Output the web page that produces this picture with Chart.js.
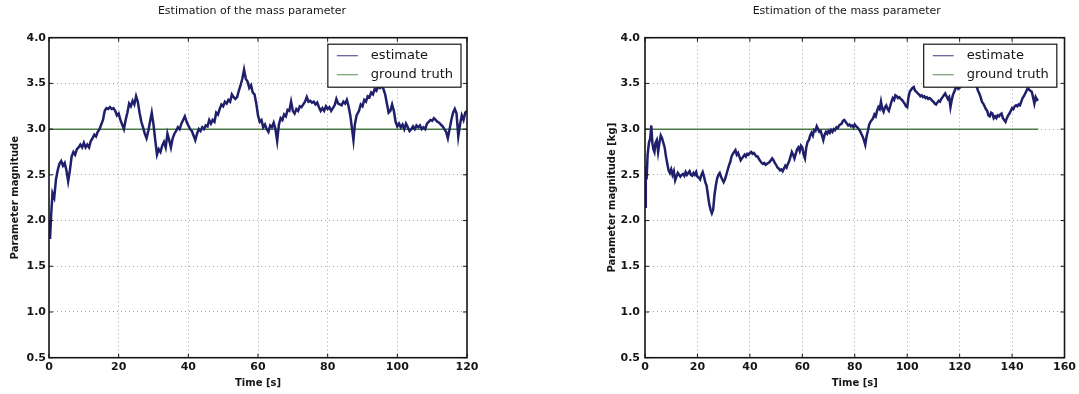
<!DOCTYPE html>
<html>
<head>
<meta charset="utf-8">
<script src="https://cdn.jsdelivr.net/npm/chart.js@4/dist/chart.umd.min.js"></script>
<style>
  html, body { margin: 0; padding: 0; background: #fff; }
  #wrap { position: relative; width: 1079px; height: 394px; }
  #left { position: absolute; left: 0; top: 0; }
  #right { position: absolute; left: 590px; top: 0; }
</style>
</head>
<body>
<div id="wrap">
  <canvas id="left" width="590" height="394"></canvas>
  <canvas id="right" width="489" height="394"></canvas>
</div>
<script>
// ---- data ----
const titleText = 'Estimation of the mass parameter';
const seriesNames = ['estimate', 'ground truth'];
const yTicks = [0.5, 1.0, 1.5, 2.0, 2.5, 3.0, 3.5, 4.0];
const leftXTicks = [0, 20, 40, 60, 80, 100, 120];
const rightXTicks = [0, 20, 40, 60, 80, 100, 120, 140, 160];
const trueMass = 3.0;

// [time (s), estimated mass] - first run, 120 s
const leftEstimate = [
  [0,2.0],[0.3,1.8],[0.6,2.05],[1,2.3],[1.5,2.25],[2,2.45],[2.5,2.55],[3,2.62],[3.5,2.65],[4,2.6],
  [4.5,2.63],[5,2.55],[5.5,2.43],[6,2.55],[6.5,2.7],[7,2.75],[7.5,2.72],[8,2.78],[8.5,2.8],[9,2.83],
  [9.5,2.8],[10,2.85],[10.5,2.8],[11,2.83],[11.5,2.8],[12,2.87],[12.5,2.9],[13,2.94],[13.5,2.92],[14,2.97],
  [14.5,3.0],[15,3.05],[15.5,3.1],[16,3.2],[16.5,3.23],[17,3.22],[17.5,3.24],[18,3.22],[18.5,3.23],[19,3.2],
  [19.5,3.15],[20,3.17],[20.5,3.1],[21,3.05],[21.5,3.0],[22,3.1],[22.5,3.18],[23,3.28],[23.5,3.25],[24,3.31],
  [24.5,3.27],[25,3.36],[25.5,3.3],[26,3.18],[26.5,3.08],[27,3.02],[27.5,2.95],[28,2.9],[28.5,2.98],[29,3.08],
  [29.5,3.18],[30,3.05],[30.5,2.88],[31,2.72],[31.5,2.78],[32,2.75],[32.5,2.82],[33,2.86],[33.5,2.8],[34,2.95],
  [34.5,2.88],[35,2.8],[35.5,2.9],[36,2.95],[36.5,2.98],[37,3.02],[37.5,3.0],[38,3.06],[38.5,3.1],[39,3.14],
  [39.5,3.08],[40,3.04],[40.5,3.0],[41,2.98],[41.5,2.93],[42,2.88],[42.5,2.95],[43,3.0],[43.5,2.98],[44,3.02],
  [44.5,3.0],[45,3.04],[45.5,3.03],[46,3.1],[46.5,3.06],[47,3.1],[47.5,3.08],[48,3.18],[48.5,3.16],[49,3.22],
  [49.5,3.27],[50,3.25],[50.5,3.3],[51,3.28],[51.5,3.32],[52,3.3],[52.5,3.38],[53,3.35],[53.5,3.33],[54,3.35],
  [54.5,3.42],[55,3.48],[55.5,3.55],[56,3.65],[56.5,3.55],[57,3.52],[57.5,3.45],[58,3.48],[58.5,3.4],[59,3.38],
  [59.5,3.28],[60,3.15],[60.5,3.08],[61,3.1],[61.5,3.02],[62,3.05],[62.5,3.0],[63,2.97],[63.5,3.04],[64,3.02],
  [64.5,3.07],[65,3.0],[65.5,2.87],[66,3.05],[66.5,3.12],[67,3.1],[67.5,3.16],[68,3.14],[68.5,3.21],[69,3.2],
  [69.5,3.3],[70,3.2],[70.5,3.17],[71,3.22],[71.5,3.2],[72,3.25],[72.5,3.24],[73,3.27],[73.5,3.3],[74,3.35],
  [74.5,3.3],[75,3.31],[75.5,3.29],[76,3.3],[76.5,3.27],[77,3.29],[77.5,3.24],[78,3.2],[78.5,3.23],[79,3.2],
  [79.5,3.25],[80,3.22],[80.5,3.24],[81,3.2],[81.5,3.23],[82,3.26],[82.5,3.33],[83,3.28],[83.5,3.27],[84,3.26],
  [84.5,3.3],[85,3.28],[85.5,3.32],[86,3.25],[86.5,3.15],[87,3.0],[87.4,2.88],[87.8,3.05],[88.3,3.15],[89,3.2],
  [89.5,3.27],[90,3.25],[90.5,3.32],[91,3.3],[91.5,3.36],[92,3.35],[92.5,3.4],[93,3.38],[93.5,3.44],[94,3.42],
  [94.5,3.47],[95,3.45],[95.5,3.47],[96,3.44],[96.5,3.38],[97,3.28],[97.5,3.18],[98,3.2],[98.5,3.27],[99,3.2],
  [99.5,3.08],[100,3.03],[100.5,3.06],[101,3.02],[101.5,3.05],[102,3.0],[102.5,3.06],[103,3.02],[103.5,2.98],[104,3.0],
  [104.5,3.03],[105,3.0],[105.5,3.04],[106,3.02],[106.5,3.04],[107,3.0],[107.5,3.02],[108,3.0],[108.5,3.06],[109,3.08],
  [109.5,3.1],[110,3.09],[110.5,3.12],[111,3.1],[111.5,3.08],[112,3.07],[112.5,3.05],[113,3.03],[113.5,3.0],[114,2.97],
  [114.5,2.9],[115,3.0],[115.5,3.1],[116,3.18],[116.5,3.22],[117,3.17],[117.5,2.92],[118,3.05],[118.5,3.15],[119,3.1],
  [119.5,3.18],[120,3.2]
];
const leftTruth = [[0, trueMass], [120, trueMass]];

// [time (s), estimated mass] - second run, 150 s
const rightEstimate = [
  [0,2.15],[0.3,2.6],[0.6,2.45],[1,2.72],[1.5,2.85],[2,2.9],[2.4,3.04],[2.8,2.85],[3.2,2.78],[3.6,2.75],
  [4,2.85],[4.5,2.88],[5,2.75],[5.5,2.85],[6,2.93],[6.5,2.9],[7,2.85],[7.5,2.8],[8,2.7],[8.5,2.62],
  [9,2.55],[9.5,2.52],[10,2.56],[10.5,2.5],[11,2.54],[11.5,2.44],[12,2.48],[12.5,2.52],[13,2.5],[13.5,2.48],
  [14,2.5],[14.5,2.51],[15,2.49],[15.5,2.53],[16,2.5],[16.5,2.52],[17,2.54],[17.5,2.5],[18,2.49],[18.5,2.52],
  [19,2.5],[19.5,2.53],[20,2.48],[20.5,2.47],[21,2.45],[21.5,2.5],[22,2.53],[22.5,2.48],[23,2.42],[23.5,2.38],
  [24,2.28],[24.5,2.18],[25,2.12],[25.5,2.08],[26,2.12],[26.5,2.28],[27,2.38],[27.5,2.46],[28,2.5],[28.5,2.52],
  [29,2.48],[29.5,2.45],[30,2.42],[30.5,2.45],[31,2.5],[31.5,2.55],[32,2.6],[32.5,2.64],[33,2.7],[33.5,2.73],
  [34,2.75],[34.5,2.77],[35,2.72],[35.5,2.74],[36,2.7],[36.5,2.66],[37,2.68],[37.5,2.7],[38,2.72],[38.5,2.7],
  [39,2.73],[39.5,2.72],[40,2.74],[40.5,2.75],[41,2.73],[41.5,2.74],[42,2.72],[42.5,2.7],[43,2.7],[43.5,2.67],
  [44,2.65],[44.5,2.63],[45,2.62],[45.5,2.63],[46,2.61],[46.5,2.62],[47,2.63],[47.5,2.64],[48,2.66],[48.5,2.68],
  [49,2.66],[49.5,2.63],[50,2.61],[50.5,2.58],[51,2.57],[51.5,2.55],[52,2.56],[52.5,2.54],[53,2.57],[53.5,2.6],
  [54,2.58],[54.5,2.62],[55,2.65],[55.5,2.7],[56,2.75],[56.5,2.72],[57,2.68],[57.5,2.73],[58,2.78],[58.5,2.8],
  [59,2.76],[59.5,2.82],[60,2.8],[60.5,2.72],[61,2.68],[61.5,2.8],[62,2.86],[62.5,2.88],[63,2.93],[63.5,2.96],
  [64,2.93],[64.5,2.99],[65,2.98],[65.5,3.03],[66,3.0],[66.5,2.97],[67,2.98],[67.5,2.93],[68,2.88],[68.5,2.94],
  [69,2.97],[69.5,2.95],[70,2.98],[70.5,2.96],[71,2.99],[71.5,2.97],[72,3.0],[72.5,2.99],[73,3.02],[73.5,3.01],
  [74,3.04],[74.5,3.05],[75,3.06],[75.5,3.09],[76,3.1],[76.5,3.08],[77,3.06],[77.5,3.04],[78,3.05],[78.5,3.03],
  [79,3.04],[79.5,3.02],[80,3.05],[80.5,3.03],[81,3.02],[81.5,3.0],[82,2.98],[82.5,2.95],[83,2.92],[83.5,2.88],
  [84,2.83],[84.5,2.92],[85,2.98],[85.5,3.05],[86,3.08],[86.5,3.1],[87,3.12],[87.5,3.16],[88,3.14],[88.5,3.2],
  [89,3.24],[89.5,3.22],[90,3.3],[90.5,3.22],[91,3.19],[91.5,3.24],[92,3.26],[92.5,3.22],[93,3.2],[93.5,3.25],
  [94,3.3],[94.5,3.34],[95,3.32],[95.5,3.37],[96,3.36],[96.5,3.34],[97,3.35],[97.5,3.33],[98,3.32],[98.5,3.3],
  [99,3.28],[99.5,3.25],[100,3.24],[100.5,3.35],[101,3.41],[101.5,3.43],[102,3.45],[102.5,3.46],[103,3.42],[103.5,3.41],
  [104,3.39],[104.5,3.38],[105,3.36],[105.5,3.37],[106,3.35],[106.5,3.36],[107,3.34],[107.5,3.35],[108,3.33],[108.5,3.34],
  [109,3.33],[109.5,3.31],[110,3.3],[110.5,3.28],[111,3.27],[111.5,3.29],[112,3.31],[112.5,3.3],[113,3.33],[113.5,3.35],
  [114,3.37],[114.5,3.39],[115,3.36],[115.5,3.33],[116,3.35],[116.5,3.24],[117,3.32],[117.5,3.38],[118,3.41],[118.5,3.45],
  [119,3.48],[119.5,3.44],[120,3.45],[120.5,3.48],[121,3.5],[122,3.52],[123,3.55],[124,3.53],[125,3.5],[126,3.48],
  [126.5,3.47],[127,3.42],[127.5,3.39],[128,3.35],[128.5,3.3],[129,3.28],[129.5,3.25],[130,3.22],[130.5,3.2],[131,3.15],
  [131.5,3.14],[132,3.18],[132.5,3.17],[133,3.12],[133.5,3.14],[134,3.12],[134.5,3.15],[135,3.14],[135.5,3.16],[136,3.17],
  [136.5,3.12],[137,3.1],[137.5,3.08],[138,3.12],[138.5,3.15],[139,3.17],[139.5,3.2],[140,3.23],[140.5,3.22],[141,3.25],
  [141.5,3.26],[142,3.25],[142.5,3.27],[143,3.26],[143.5,3.3],[144,3.34],[144.5,3.36],[145,3.39],[145.5,3.42],[146,3.45],
  [146.5,3.43],[147,3.42],[147.5,3.41],[148,3.35],[148.5,3.28],[149,3.35],[149.5,3.32],[150,3.33]
];
const rightTruth = [[0, trueMass], [150, trueMass]];

// ---- styling ----
const FONT = '"DejaVu Sans", "Liberation Sans", sans-serif';
const INK = '#161616';
const ESTIMATE_COLOR = '#1f1f6b';
const TRUTH_COLOR = '#4a7a44';

const toPoints = pairs => pairs.map(([x, y]) => ({ x, y }));

// Frame, inward tick marks, title and boxed legend (matplotlib look)
const decorPlugin = {
  id: 'decor',
  afterDatasetsDraw(chart) {
    const { ctx, chartArea: a, scales: { x, y } } = chart;
    const o = chart.options.plugins.decor;
    ctx.save();

    // inward ticks on all four sides
    ctx.strokeStyle = INK;
    ctx.lineWidth = 1;
    ctx.beginPath();
    x.ticks.forEach(t => {
      const px = x.getPixelForValue(t.value);
      ctx.moveTo(px, a.bottom); ctx.lineTo(px, a.bottom - 4);
      ctx.moveTo(px, a.top); ctx.lineTo(px, a.top + 4);
    });
    y.ticks.forEach(t => {
      const py = y.getPixelForValue(t.value);
      ctx.moveTo(a.left, py); ctx.lineTo(a.left + 4, py);
      ctx.moveTo(a.right, py); ctx.lineTo(a.right - 4, py);
    });
    ctx.stroke();

    // axes frame
    ctx.lineWidth = 1.6;
    ctx.strokeRect(a.left, a.top, a.right - a.left, a.bottom - a.top);

    // title
    ctx.fillStyle = INK;
    ctx.font = '11px ' + FONT;
    ctx.textAlign = 'center';
    ctx.textBaseline = 'middle';
    ctx.fillText(o.title, (a.left + a.right) / 2 + o.titleShift, 11);

    // legend box in upper right
    ctx.font = '13px ' + FONT;
    const names = chart.data.datasets.map(d => d.label);
    const textW = Math.max(...names.map(n => ctx.measureText(n).width));
    const boxW = 43 + textW + 8;
    const boxH = 43;
    const bx = a.right - o.legendInset - boxW;
    const by = a.top + 6.5;
    ctx.fillStyle = '#fff';
    ctx.fillRect(bx, by, boxW, boxH);
    ctx.lineWidth = 1.2;
    ctx.strokeStyle = INK;
    ctx.strokeRect(bx, by, boxW, boxH);
    chart.data.datasets.forEach((d, i) => {
      const ry = by + 11.5 + i * 19;
      ctx.globalAlpha = 0.75;
      ctx.strokeStyle = d.borderColor;
      ctx.lineWidth = 1.2;
      ctx.beginPath();
      ctx.moveTo(bx + 9, ry); ctx.lineTo(bx + 30, ry);
      ctx.stroke();
      ctx.globalAlpha = 1;
      ctx.fillStyle = INK;
      ctx.textAlign = 'left';
      ctx.textBaseline = 'middle';
      ctx.fillText(d.label, bx + 43, ry);
    });
    ctx.restore();
  }
};

function makeChart(id, cfg) {
  const gridStyle = { color: '#a8a8a8', lineWidth: 1, drawTicks: false };
  return new Chart(document.getElementById(id), {
    type: 'line',
    data: {
      datasets: [
        { label: seriesNames[0], data: toPoints(cfg.estimate), borderColor: ESTIMATE_COLOR,
          borderWidth: 2.5, pointRadius: 0, tension: 0 },
        { label: seriesNames[1], data: toPoints(cfg.truth), borderColor: TRUTH_COLOR,
          borderWidth: 1.5, pointRadius: 0, tension: 0 }
      ]
    },
    options: {
      responsive: false,
      animation: false,
      layout: { padding: { top: 37.7, right: cfg.padRight, bottom: 0, left: 0 } },
      plugins: {
        legend: { display: false },
        tooltip: { enabled: false },
        decor: { title: titleText, titleShift: cfg.titleShift, legendInset: cfg.legendInset }
      },
      scales: {
        x: {
          type: 'linear',
          min: cfg.xTicks[0],
          max: cfg.xTicks[cfg.xTicks.length - 1],
          afterBuildTicks: s => { s.ticks = cfg.xTicks.map(v => ({ value: v })); },
          afterFit: s => { s.height = 36.3; },
          grid: gridStyle,
          border: { display: false, dash: [1, 3] },
          ticks: { color: INK, padding: 3, maxRotation: 0, autoSkip: false,
                   font: { family: FONT, size: 11, weight: 'bold' },
                   callback: v => String(v) },
          title: { display: true, text: 'Time [s]', color: INK, padding: { top: 0, bottom: 5 },
                   font: { family: FONT, size: 10, weight: 'bold' } }
        },
        y: {
          min: yTicks[0],
          max: yTicks[yTicks.length - 1],
          afterBuildTicks: s => { s.ticks = yTicks.map(v => ({ value: v })); },
          afterFit: s => { s.width = cfg.yAxisWidth; },
          grid: gridStyle,
          border: { display: false, dash: [1, 3] },
          ticks: { color: INK, padding: cfg.yTickPad, autoSkip: false,
                   font: { family: FONT, size: 11, weight: 'bold' },
                   callback: v => Number(v).toFixed(1) },
          title: { display: true, text: cfg.yTitle, color: INK, padding: { top: cfg.yTitlePad, bottom: 0 },
                   font: { family: FONT, size: 10, weight: 'bold' } }
        }
      }
    },
    plugins: [decorPlugin]
  });
}

makeChart('left', {
  estimate: leftEstimate, truth: leftTruth, xTicks: leftXTicks,
  yTitle: 'Parameter magnitude', yAxisWidth: 49, yTickPad: 3, yTitlePad: 9,
  padRight: 123, titleShift: -6, legendInset: 6
});
makeChart('right', {
  estimate: rightEstimate, truth: rightTruth, xTicks: rightXTicks,
  yTitle: 'Parameter magnitude [kg]', yAxisWidth: 55, yTickPad: 5, yTitlePad: 16,
  padRight: 11.3, titleShift: -8, legendInset: 7.7
});
</script>
</body>
</html>
